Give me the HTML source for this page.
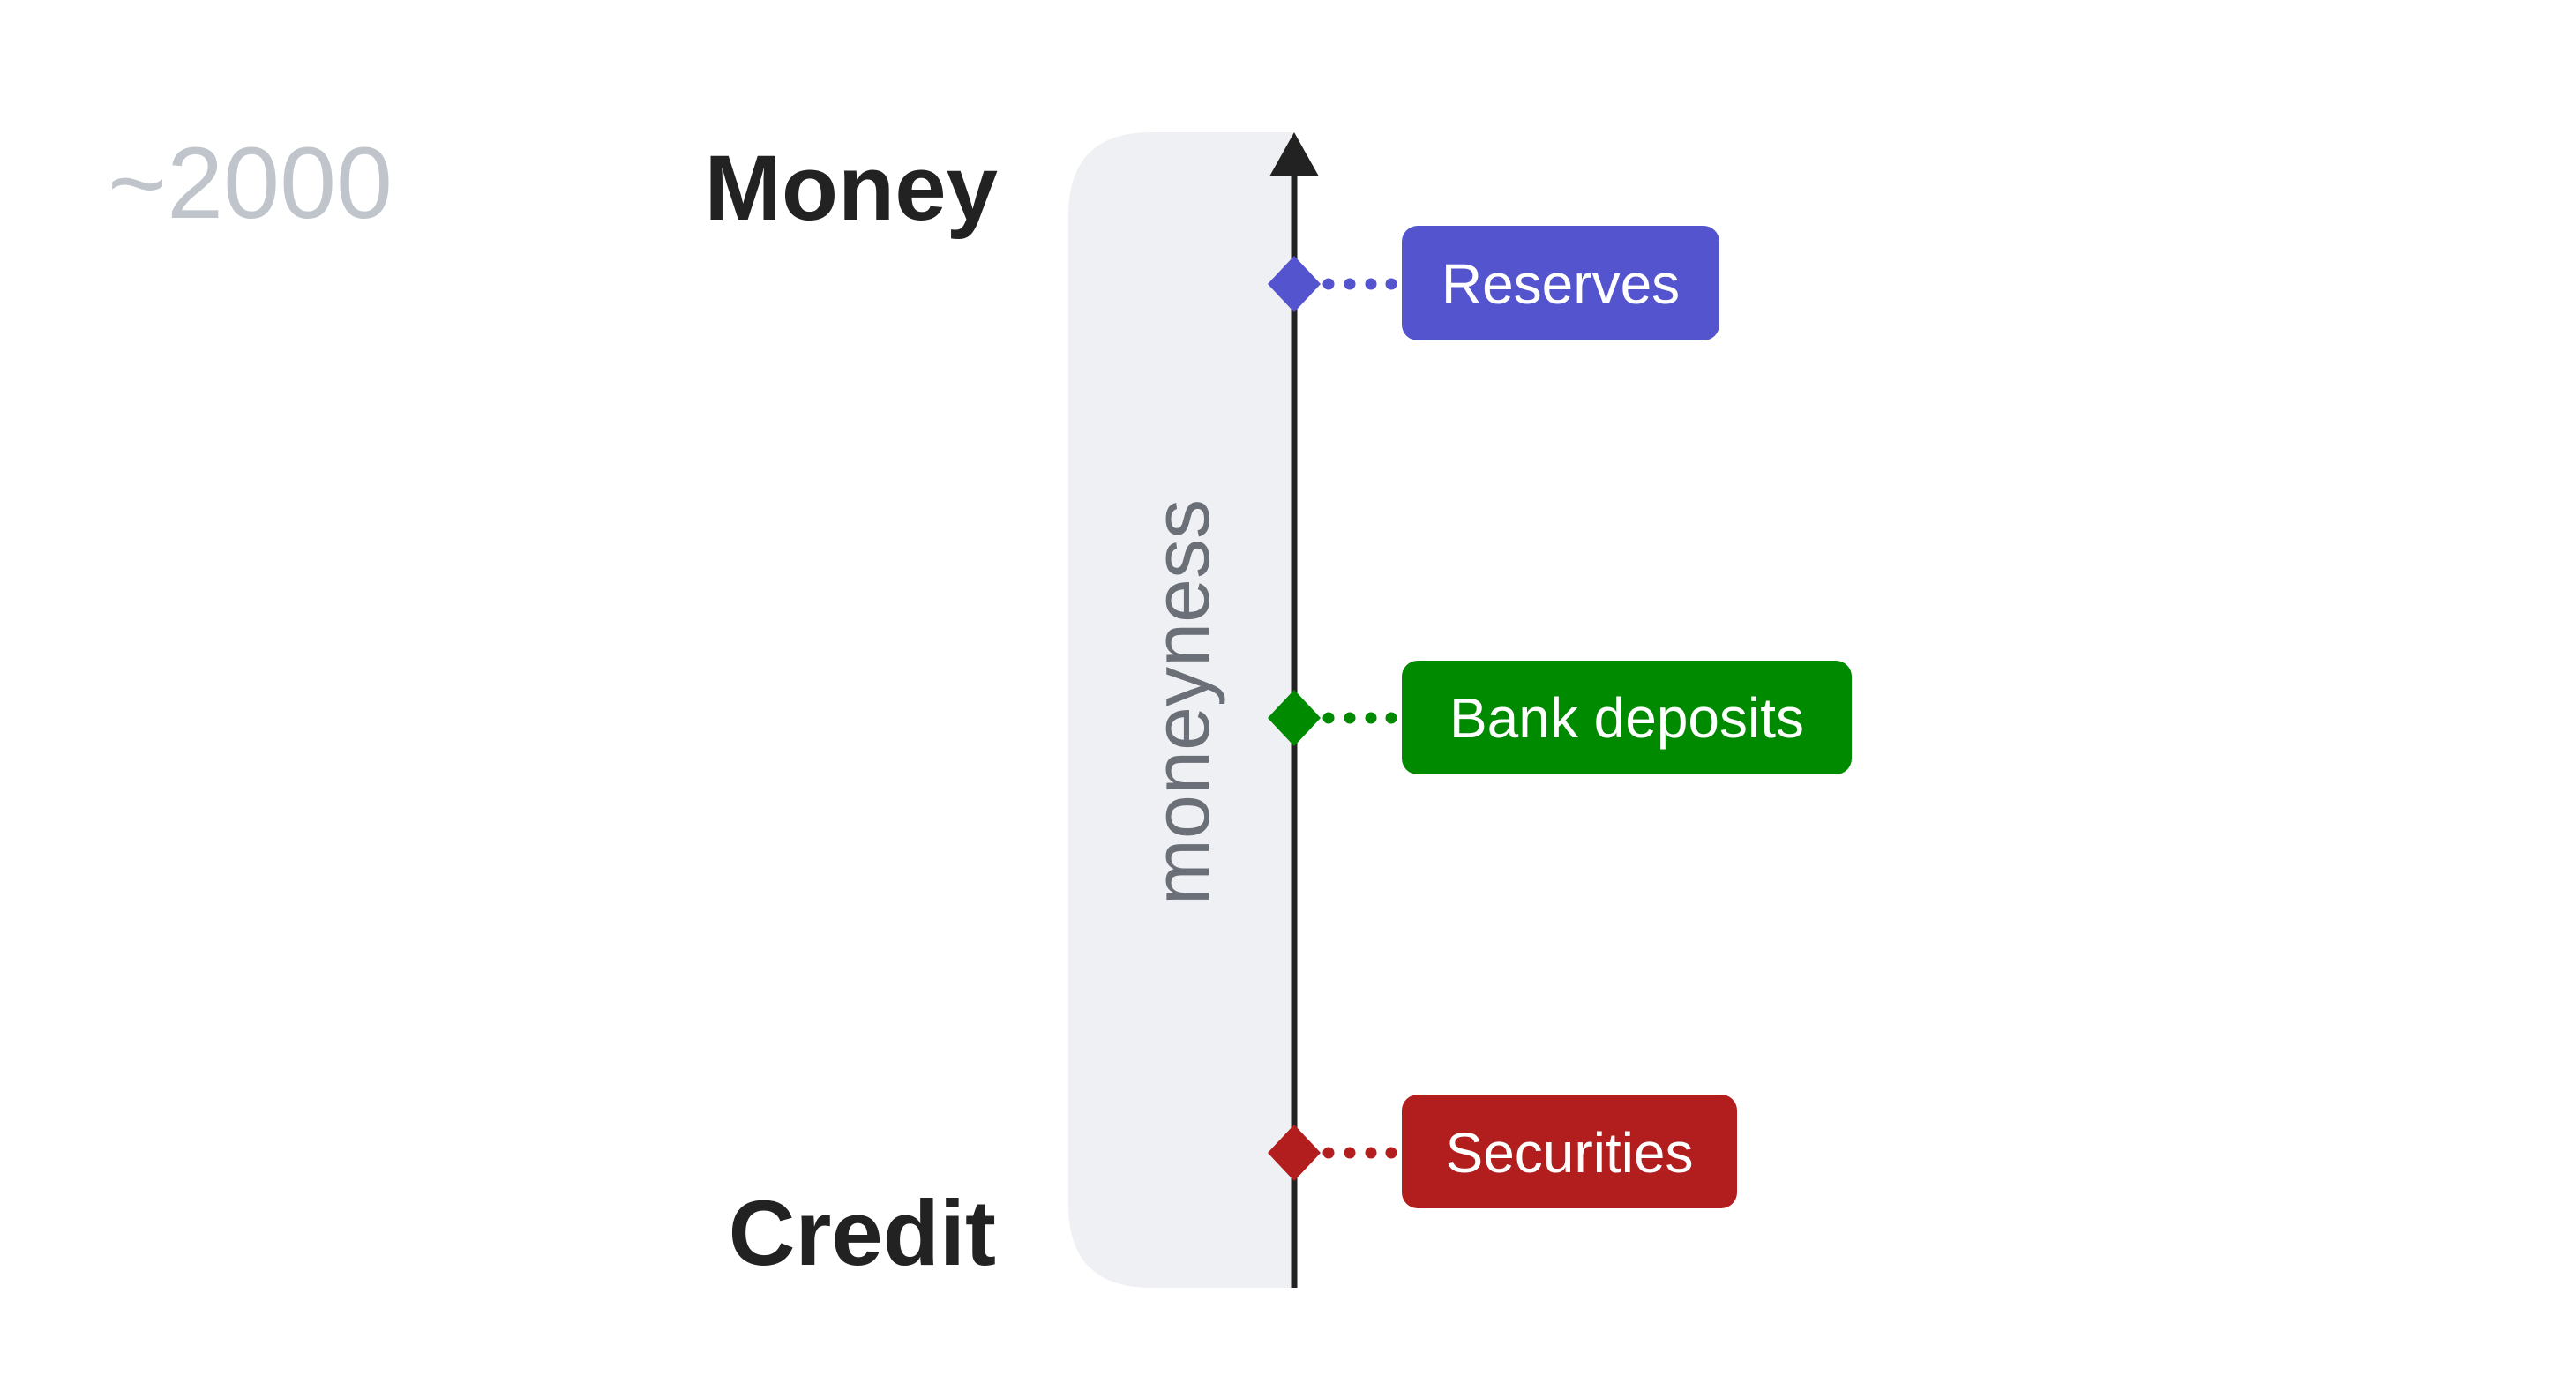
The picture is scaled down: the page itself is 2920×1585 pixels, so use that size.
<!DOCTYPE html>
<html><head><meta charset="utf-8"><style>
html,body{margin:0;padding:0;background:#fff;}
svg{display:block;}
text{font-family:"Liberation Sans",sans-serif;}
</style></head><body>
<svg width="2920" height="1585" viewBox="0 0 2920 1585" xmlns="http://www.w3.org/2000/svg">
  <rect width="2920" height="1585" fill="#fff"/>
  <text x="122" y="247" font-size="115" fill="#c0c4cb">~2000</text>
  <text x="1131" y="249" font-size="105" font-weight="bold" fill="#222" text-anchor="end">Money</text>
  <text x="1129" y="1434" font-size="105" font-weight="bold" fill="#222" text-anchor="end">Credit</text>
  <path d="M1466 150 L1305 150 Q1211 150 1211 244 L1211 1366 Q1211 1460 1305 1460 L1466 1460 Z" fill="#eff0f3"/>
  <text transform="translate(1370,796) rotate(-90)" font-size="90" fill="#6b6f78" text-anchor="middle">moneyness</text>
  <line x1="1467" y1="195" x2="1467" y2="1460" stroke="#222" stroke-width="7"/>
  <polygon points="1467,150 1439,200 1495,200" fill="#222"/>
  <g>
    <polygon points="1467,290 1497,322 1467,354 1437,322" fill="#5454cf"/>
    <g fill="#5454cf"><circle cx="1506" cy="322" r="6.5"/><circle cx="1530" cy="322" r="6.5"/><circle cx="1554" cy="322" r="6.5"/><circle cx="1577" cy="322" r="6.5"/></g>
    <rect x="1589" y="256" width="360" height="130" rx="18" fill="#5454cf"/>
    <text x="1769" y="344" font-size="64" fill="#fff" text-anchor="middle">Reserves</text>
  </g>
  <g>
    <polygon points="1467,782 1497,814 1467,846 1437,814" fill="#008a00"/>
    <g fill="#008a00"><circle cx="1506" cy="814" r="6.5"/><circle cx="1530" cy="814" r="6.5"/><circle cx="1554" cy="814" r="6.5"/><circle cx="1577" cy="814" r="6.5"/></g>
    <rect x="1589" y="749" width="510" height="129" rx="18" fill="#008a00"/>
    <text x="1844" y="836" font-size="64" fill="#fff" text-anchor="middle">Bank deposits</text>
  </g>
  <g>
    <polygon points="1467,1275 1497,1307 1467,1339 1437,1307" fill="#b21e1e"/>
    <g fill="#b21e1e"><circle cx="1506" cy="1307" r="6.5"/><circle cx="1530" cy="1307" r="6.5"/><circle cx="1554" cy="1307" r="6.5"/><circle cx="1577" cy="1307" r="6.5"/></g>
    <rect x="1589" y="1241" width="380" height="129" rx="18" fill="#b21e1e"/>
    <text x="1779" y="1329" font-size="64" fill="#fff" text-anchor="middle">Securities</text>
  </g>
</svg>
</body></html>
